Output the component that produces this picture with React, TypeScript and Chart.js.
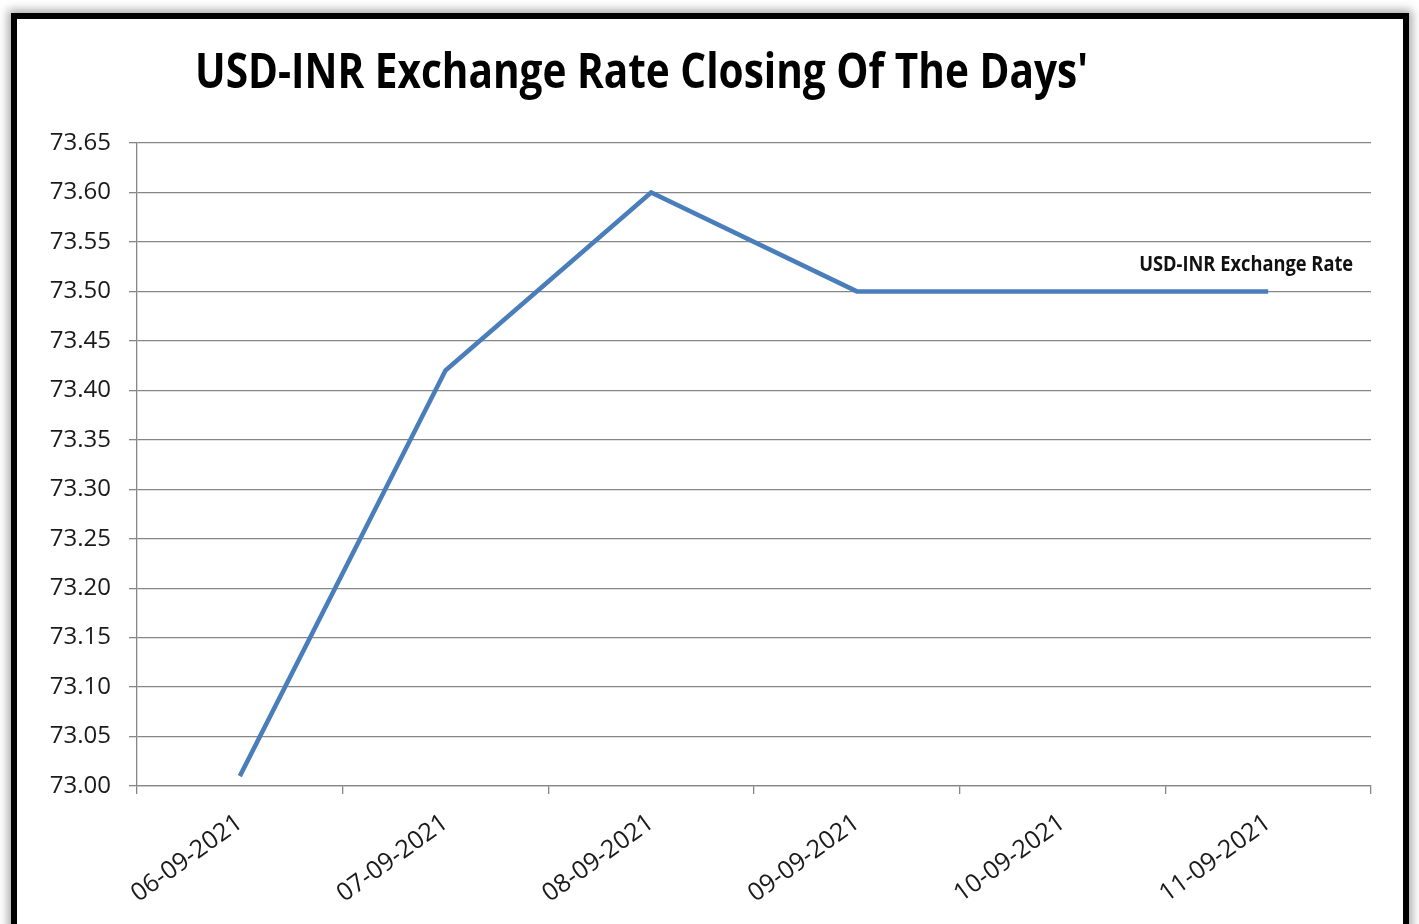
import React, { useEffect, useRef } from "react";
import { Chart, registerables } from "chart.js";

Chart.register(...registerables);

const categories = ["06-09-2021", "07-09-2021", "08-09-2021", "09-09-2021", "10-09-2021", "11-09-2021"];
const rateValues = [73.01, 73.42, 73.6, 73.5, 73.5, 73.5];
const seriesName = "USD-INR Exchange Rate";
const chartTitle = "USD-INR Exchange Rate Closing Of The Days'";
const yMin = 73.0;
const yMax = 73.65;
const yStep = 0.05;

const FONT = "'Open Sans', 'Noto Sans', sans-serif";

const titlePlugin = {
  id: "excelTitle",
  afterDraw(chart: any) {
    const ctx = chart.ctx;
    ctx.save();
    ctx.font = `bold 48px ${FONT}`;
    const w = ctx.measureText(chartTitle).width;
    ctx.translate(195, 88);
    ctx.scale(893 / w, 1);
    ctx.fillStyle = "#000";
    ctx.textBaseline = "alphabetic";
    ctx.textAlign = "left";
    ctx.fillText(chartTitle, 0, 0);
    ctx.restore();
  },
};

const seriesLabelPlugin = {
  id: "seriesLabel",
  afterDatasetsDraw(chart: any) {
    const meta = chart.getDatasetMeta(0);
    const pt = meta.data[meta.data.length - 1];
    if (!pt) return;
    const ctx = chart.ctx;
    ctx.save();
    ctx.font = `bold 21px ${FONT}`;
    const w = ctx.measureText(seriesName).width;
    const target = 214;
    ctx.translate(pt.x + 85 - target, pt.y - 20);
    ctx.scale(target / w, 1);
    ctx.fillStyle = "#111";
    ctx.textBaseline = "alphabetic";
    ctx.textAlign = "left";
    ctx.fillText(seriesName, 0, 0);
    ctx.restore();
  },
};

function App() {
  const ref = useRef<HTMLCanvasElement | null>(null);

  useEffect(() => {
    if (!ref.current) return;
    const chart = new Chart(ref.current, {
      type: "line",
      data: {
        labels: categories,
        datasets: [
          {
            label: seriesName,
            data: rateValues,
            borderColor: "#4a7ebb",
            borderWidth: 4.5,
            pointRadius: 0,
            tension: 0,
            fill: false,
          },
        ],
      },
      options: {
        responsive: false,
        animation: false,
        devicePixelRatio: 1,
        layout: { padding: { top: 143, right: 48, left: 0, bottom: 0 } },
        plugins: {
          legend: { display: false },
          tooltip: { enabled: false },
          title: { display: false },
        },
        scales: {
          x: {
            type: "category",
            offset: true,
            grid: {
              display: true,
              drawOnChartArea: false,
              offset: true,
              tickLength: 8,
              color: "#868686",
              lineWidth: 1.3,
            },
            border: { display: true, color: "#868686", width: 1.3 },
            ticks: {
              autoSkip: false,
              minRotation: 36,
              maxRotation: 36,
              padding: 14,
              color: "#1a1a1a",
              font: { family: FONT, size: 25 },
            },
            afterFit(scale: any) {
              scale.height = 138;
            },
          },
          y: {
            min: yMin,
            max: yMax,
            grid: {
              color: "#868686",
              lineWidth: 1.3,
              tickLength: 8,
            },
            border: { display: true, color: "#868686", width: 1.3 },
            ticks: {
              stepSize: yStep,
              padding: 18,
              color: "#1a1a1a",
              font: { family: FONT, size: 24 },
              callback: (v: any) => Number(v).toFixed(2),
            },
            afterFit(scale: any) {
              scale.width = 137;
            },
          },
        },
      },
      plugins: [titlePlugin, seriesLabelPlugin],
    });
    return () => chart.destroy();
  }, []);

  return (
    <div
      style={{
        position: "fixed",
        left: 0,
        top: 0,
        width: 1419,
        height: 924,
        overflow: "hidden",
        background: "#fff",
      }}
    >
      <div
        style={{
          position: "absolute",
          left: 11,
          top: 13,
          width: 1386,
          height: 1000,
          border: "6px solid #000",
          boxShadow: "0 0 9px 3px rgba(0,0,0,0.35)",
          background: "#fff",
        }}
      />
      <canvas
        ref={ref}
        width={1419}
        height={924}
        style={{ position: "absolute", left: 0, top: 0, width: 1419, height: 924 }}
      />
    </div>
  );
}

export default App;
